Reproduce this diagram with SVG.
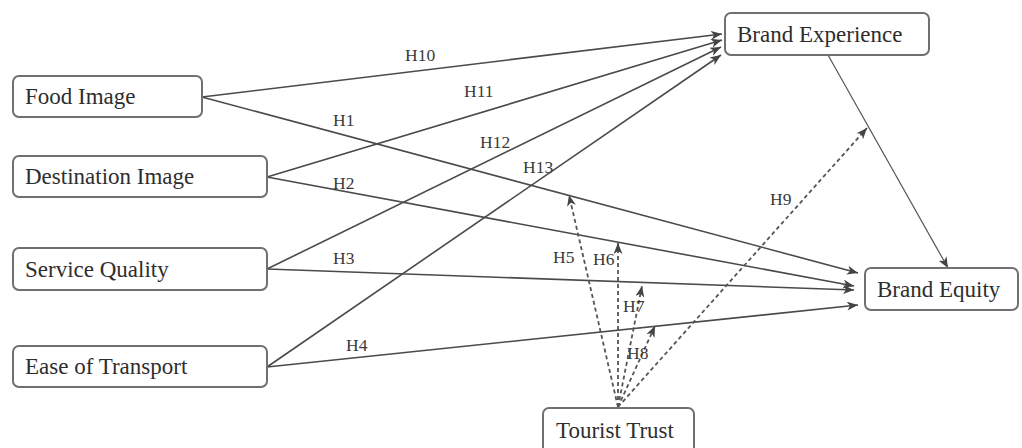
<svg xmlns="http://www.w3.org/2000/svg" width="1022" height="448" viewBox="0 0 1022 448">
<style>
.box{fill:#fff;stroke:#707070;stroke-width:2}
.t{font-family:"Liberation Serif","Times New Roman",serif;font-size:23px;fill:#2e2e2e}
.lbl{font-family:"Liberation Serif","Times New Roman",serif;font-size:17.5px;fill:#3a3a3a}
.s{fill:none;stroke:#4a4a4a;stroke-width:1.6}
.thin{fill:none;stroke:#555;stroke-width:1.2}
.d{fill:none;stroke:#555;stroke-width:1.8;stroke-dasharray:4 3}
</style>
<defs>
<marker id="arr" markerUnits="userSpaceOnUse" markerWidth="12" markerHeight="10" refX="11" refY="4.5" orient="auto">
<path d="M0,0 L11,4.5 L0,9 L3,4.5 Z" fill="#444"/>
</marker>
</defs>
<rect width="1022" height="448" fill="#fff"/>
<g id="connectors">
<line class="s" x1="202" y1="97" x2="722" y2="34" marker-end="url(#arr)"/>
<line class="s" x1="267" y1="177" x2="722" y2="40" marker-end="url(#arr)"/>
<line class="s" x1="267" y1="269" x2="721" y2="47" marker-end="url(#arr)"/>
<line class="s" x1="267" y1="367" x2="721" y2="55" marker-end="url(#arr)"/>
<line class="s" x1="202" y1="97" x2="858" y2="273" marker-end="url(#arr)"/>
<line class="s" x1="267" y1="177" x2="854" y2="286" marker-end="url(#arr)"/>
<line class="s" x1="267" y1="269" x2="854" y2="290" marker-end="url(#arr)"/>
<line class="s" x1="267" y1="367" x2="858" y2="305" marker-end="url(#arr)"/>
<line class="thin" x1="828" y1="55" x2="948" y2="268" marker-end="url(#arr)"/>
<line class="d" x1="618" y1="407" x2="569" y2="195" marker-end="url(#arr)"/>
<line class="d" x1="618" y1="407" x2="618" y2="243" marker-end="url(#arr)"/>
<line class="d" x1="618" y1="407" x2="642" y2="286" marker-end="url(#arr)"/>
<line class="d" x1="618" y1="407" x2="655" y2="326" marker-end="url(#arr)"/>
<line class="d" x1="618" y1="407" x2="867" y2="128" marker-end="url(#arr)"/>
<text class="lbl" x="405" y="61">H10</text>
<text class="lbl" x="464" y="97">H11</text>
<text class="lbl" x="333" y="126">H1</text>
<text class="lbl" x="480" y="148">H12</text>
<text class="lbl" x="523" y="173">H13</text>
<text class="lbl" x="333" y="189">H2</text>
<text class="lbl" x="333" y="264">H3</text>
<text class="lbl" x="346" y="351">H4</text>
<text class="lbl" x="553" y="263">H5</text>
<text class="lbl" x="593" y="265">H6</text>
<text class="lbl" x="623" y="312">H7</text>
<text class="lbl" x="627" y="359">H8</text>
<text class="lbl" x="770" y="205">H9</text>
</g>
<g id="food-image"><rect class="box" x="13" y="76" width="189" height="41" rx="6"/><text class="t" x="25" y="104">Food Image</text></g>
<g id="destination-image"><rect class="box" x="13" y="156" width="254" height="41" rx="6"/><text class="t" x="25" y="184">Destination Image</text></g>
<g id="service-quality"><rect class="box" x="13" y="248" width="254" height="42" rx="6"/><text class="t" x="25" y="277">Service Quality</text></g>
<g id="ease-of-transport"><rect class="box" x="13" y="346" width="254" height="41" rx="6"/><text class="t" x="25" y="374">Ease of Transport</text></g>
<g id="brand-experience"><rect class="box" x="725" y="13" width="204" height="42" rx="6"/><text class="t" x="737" y="42">Brand Experience</text></g>
<g id="brand-equity"><rect class="box" x="865" y="268" width="153" height="42" rx="6"/><text class="t" x="877" y="297">Brand Equity</text></g>
<g id="tourist-trust"><rect class="box" x="543" y="408" width="151" height="46" rx="6"/><text class="t" x="556" y="438">Tourist Trust</text></g>
</svg>
